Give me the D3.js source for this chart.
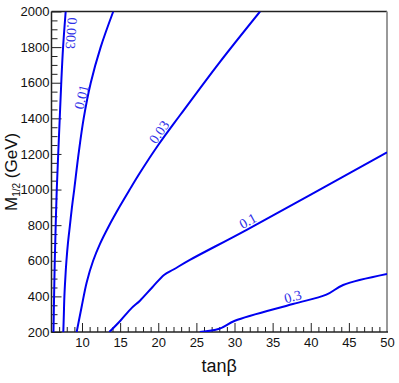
<!DOCTYPE html>
<html>
<head>
<meta charset="utf-8">
<script src="https://cdn.jsdelivr.net/npm/d3@7"></script>
<style>
  html, body { margin: 0; padding: 0; background: #fff; }
  svg { display: block; }
</style>
</head>
<body>
<svg id="chart" width="399" height="383"></svg>
<script>
// ---- data ----
const xMajorTicks = [10, 15, 20, 25, 30, 35, 40, 45, 50];
const yMajorTicks = [200, 400, 600, 800, 1000, 1200, 1400, 1600, 1800, 2000];
const xDomain = [6, 50];
const yDomain = [200, 2000];

const contour0003 = [[6.26,200],[6.34,400],[6.43,600],[6.55,800],[6.69,1000],[6.88,1200],[7.08,1400],[7.28,1600],[7.52,1800],[7.86,2000]];
const contour001 = [[7.55,200],[7.62,300],[7.69,400],[7.81,500],[7.96,600],[8.16,700],[8.42,800],[8.68,900],[8.98,1000],[9.55,1200],[10.22,1400],[11.15,1600],[12.45,1800],[14.1,2000]];
const contour003 = [[9.3,200],[9.96,343],[10.62,480],[11.46,600],[12.36,695],[13.46,790],[14.96,906],[16.26,1000],[17.6,1094],[20.0,1250],[22.9,1420],[28.0,1712],[33.35,2000]];
const contour01 = [[13.58,200],[15.0,262],[16.5,334],[17.6,376],[19.2,450],[20.8,522],[22.0,551],[24.15,605],[31.6,774],[50,1209]];
const contour03 = [[25.45,200],[28.0,218],[30.05,263],[37.65,357],[42.05,410],[44.25,464],[50,526]];

const contours = [contour0003, contour001, contour003, contour01, contour03];
const contourLabels = ["0.003", "0.01", "0.03", "0.1", "0.3"];
const labelAnchors = [[7.66,1880],[10.85,1510],[20.9,1300],[32.2,788],[37.9,360]];
const labelReadsDown = [true, false, false, false, false];

// ---- layout ----
const svg = d3.select("#chart");
const plotL = 51.5, plotT = 11.5, plotR = 387, plotB = 332;

const x = d3.scaleLinear().domain(xDomain).range([plotL, plotR]);
const y = d3.scaleLinear().domain(yDomain).range([plotB, plotT]);

svg.append("defs").append("clipPath").attr("id", "plotclip")
  .append("rect").attr("x", plotL).attr("y", plotT)
  .attr("width", plotR - plotL).attr("height", plotB - plotT);

// minor ticks
const xMinor = d3.range(7, 51, 1).filter(v => !xMajorTicks.includes(v));
const yMinor = d3.range(250, 2000, 50).filter(v => !yMajorTicks.includes(v));

const axisColor = "#222";

svg.append("g").attr("transform", `translate(0,${plotB})`)
  .call(d3.axisBottom(x).tickValues(xMinor).tickSize(-5).tickFormat(""))
  .call(g => g.select(".domain").remove())
  .call(g => g.selectAll("line").attr("stroke", axisColor));

svg.append("g").attr("transform", `translate(${plotL},0)`)
  .call(d3.axisLeft(y).tickValues(yMinor).tickSize(-6).tickFormat(""))
  .call(g => g.select(".domain").remove())
  .call(g => g.selectAll("line").attr("stroke", axisColor));

const xAxis = svg.append("g").attr("transform", `translate(0,${plotB})`)
  .call(d3.axisBottom(x).tickValues(xMajorTicks).tickSize(-9).tickPadding(6).tickFormat(d3.format("d")));
xAxis.select(".domain").remove();
xAxis.selectAll("line").attr("stroke", axisColor);
xAxis.selectAll("text").attr("fill", "#111").style("font", "13px 'Liberation Sans', Arial, sans-serif");

const yAxis = svg.append("g").attr("transform", `translate(${plotL},0)`)
  .call(d3.axisLeft(y).tickValues(yMajorTicks).tickSize(-10).tickPadding(2).tickFormat(d3.format("d")));
yAxis.select(".domain").remove();
yAxis.selectAll("line").attr("stroke", axisColor);
yAxis.selectAll("text").attr("fill", "#111").style("font", "13px 'Liberation Sans', Arial, sans-serif");

// frame
svg.append("line").attr("x1", plotL).attr("x2", plotR).attr("y1", plotT).attr("y2", plotT)
  .attr("stroke", axisColor).attr("stroke-width", 1.3);
svg.append("line").attr("x1", plotR).attr("x2", plotR).attr("y1", plotT).attr("y2", plotB)
  .attr("stroke", "#999").attr("stroke-width", 2);
svg.append("line").attr("x1", plotL).attr("x2", plotL).attr("y1", plotT).attr("y2", plotB + 0.7)
  .attr("stroke", axisColor).attr("stroke-width", 1.5);
svg.append("line").attr("x1", plotL).attr("x2", plotR + 1).attr("y1", plotB).attr("y2", plotB)
  .attr("stroke", axisColor).attr("stroke-width", 1.5);

// contour lines
const line = d3.line().x(d => x(d[0])).y(d => y(d[1])).curve(d3.curveCatmullRom.alpha(0.5));
svg.append("g").attr("clip-path", "url(#plotclip)")
  .selectAll("path").data(contours).join("path")
  .attr("d", line)
  .attr("fill", "none")
  .attr("stroke", "#0000f0")
  .attr("stroke-width", 2);

// contour labels
contourLabels.forEach((txt, k) => {
  const pts = contours[k].map(d => [x(d[0]), y(d[1])]);
  const a = labelAnchors[k];
  const px = x(a[0]), py = y(a[1]);
  let best = 0, bd = Infinity;
  pts.forEach((p, i) => {
    const dd = (p[0]-px)**2 + (p[1]-py)**2;
    if (dd < bd) { bd = dd; best = i; }
  });
  const p0 = pts[Math.max(best-1, 0)], p1 = pts[Math.min(best+1, pts.length-1)];
  let ang = Math.atan2(p1[1]-p0[1], p1[0]-p0[0]) * 180 / Math.PI;
  if (ang > 90) ang -= 180;
  if (ang < -90) ang += 180;
  if (labelReadsDown[k]) ang += 180;
  svg.append("text")
    .attr("transform", `translate(${px},${py}) rotate(${ang})`)
    .attr("y", -2.5)
    .attr("text-anchor", "middle")
    .attr("fill", "#3030e8")
    .style("font", "14px 'Liberation Serif', 'Times New Roman', serif")
    .text(txt);
});

// axis titles
svg.append("text")
  .attr("x", (plotL + plotR) / 2).attr("y", 372)
  .attr("text-anchor", "middle")
  .attr("fill", "#111")
  .style("font", "18px 'Liberation Sans', Arial, sans-serif")
  .text("tanβ");

const yt = svg.append("text")
  .attr("transform", "translate(16.5,211) rotate(-90)")
  .attr("text-anchor", "start")
  .attr("fill", "#111")
  .style("font", "17px 'Liberation Sans', Arial, sans-serif");
yt.append("tspan").text("M");
yt.append("tspan").attr("dy", 3.5).style("font-size", "10px").text("1/2");
yt.append("tspan").attr("dy", -3.5).text(" (GeV)");
</script>
</body>
</html>
